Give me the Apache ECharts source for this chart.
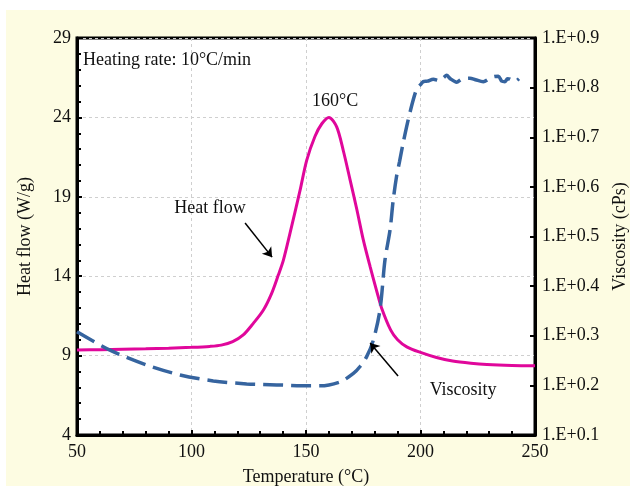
<!DOCTYPE html>
<html>
<head>
<meta charset="utf-8">
<script src="https://cdn.jsdelivr.net/npm/echarts@6/dist/echarts.min.js"></script>
<style>
  html, body { margin: 0; padding: 0; background: #fff; }
  #dsc { width: 635px; height: 490px; }
</style>
</head>
<body>
<div id="dsc"></div>
<script>
// 热流曲线 (W/g)
var heatT = [50, 60, 70, 80, 90, 100, 108, 113, 118, 122.6, 127, 131.4, 135, 137.9, 140.1, 143, 147.4, 150.3, 153.9, 156.9, 160, 163.4, 166.3, 169.2, 172.2, 175, 178, 181, 183, 187, 190, 194, 200, 207, 214, 222, 229, 240, 250];
var heatY = [9.35, 9.37, 9.4, 9.43, 9.47, 9.52, 9.58, 9.66, 9.88, 10.3, 11.03, 11.87, 12.92, 14.07, 15.0, 16.7, 19.4, 21.3, 22.8, 23.6, 24.0, 23.4, 21.9, 20.1, 18.2, 16.3, 14.6, 13.0, 12.0, 10.6, 10.0, 9.55, 9.2, 8.88, 8.66, 8.52, 8.44, 8.38, 8.36];
// 粘度曲线 (右轴, 1.E+x 中的 x)
var visT = [50, 64.4, 80.4, 95, 109.5, 124.1, 137.2, 151.8, 156.1, 164.9, 170.7, 173.6, 176.5, 179.4, 182.3, 184.5, 186.7, 188, 189.5, 190.8, 192.5, 195.4, 198.3, 200, 201.2, 203, 205.6, 208, 210, 211.4, 213, 215.8, 218, 221.6, 224, 227.4, 230, 232, 234, 235.5, 236.9, 238, 239.1, 241, 243];
var visV = [0.308, 0.271, 0.241, 0.221, 0.209, 0.203, 0.201, 0.199, 0.199, 0.207, 0.224, 0.238, 0.258, 0.291, 0.352, 0.453, 0.513, 0.57, 0.62, 0.65, 0.69, 0.75, 0.797, 0.806, 0.812, 0.813, 0.817, 0.814, 0.82, 0.825, 0.818, 0.811, 0.817, 0.819, 0.816, 0.812, 0.818, 0.822, 0.823, 0.813, 0.812, 0.818, 0.817, 0.812, 0.818];
// 坐标轴
var xMin = 50, xMax = 250, xStep = 50;
var hMin = 4, hMax = 29, hStep = 5;
var vMin = 0.1, vMax = 0.9, vStep = 0.1;

function pairs(xs, ys) {
	var out = [];
	for (var i = 0; i < xs.length; i++) out.push([xs[i], ys[i]]);
	return out;
}

var font = 'Liberation Serif';
var txt = { fontFamily: font, fontSize: 18, color: '#111' };

var myChart = echarts.init(document.getElementById('dsc'));
var option = {
	animation: false,
	backgroundColor: '#fff',
	graphic: [{
		type: 'rect', z: -10,
		shape: { x: 6, y: 10, width: 624, height: 476 },
		style: { fill: '#fdfce2' }
	}],
	grid: {
		left: 77, right: 100, top: 38, bottom: 55,
		outerBoundsMode: 'none',
		show: true, backgroundColor: '#fff',
		borderColor: '#000', borderWidth: 3
	},
	xAxis: [{
		type: 'value', min: xMin, max: xMax, interval: xStep,
		name: 'Temperature (°C)', nameLocation: 'middle', nameGap: 33,
		nameTextStyle: txt,
		axisLine: { lineStyle: { color: '#000', width: 3 } },
		axisTick: { inside: true, length: 5, lineStyle: { color: '#000', width: 2 } },
		minorTick: { show: true, splitNumber: 5, length: 4, lineStyle: { color: '#000', width: 2 } },
		axisLabel: { fontFamily: font, fontSize: 18, color: '#111', margin: 8 },
		splitLine: { show: true, lineStyle: { color: '#cfcfcf', type: [3, 3], width: 1 } }
	}],
	yAxis: [{
		type: 'value', min: hMin, max: hMax, interval: hStep,
		name: 'Heat flow (W/g)', nameLocation: 'middle', nameGap: 43, nameRotate: 90,
		nameTextStyle: txt,
		axisLine: { show: true, lineStyle: { color: '#000', width: 3 } },
		axisTick: { show: true, inside: true, length: 5, lineStyle: { color: '#000', width: 2 } },
		minorTick: { show: true, splitNumber: 5, length: 4, lineStyle: { color: '#000', width: 2 } },
		axisLabel: { fontFamily: font, fontSize: 18, color: '#111', margin: 6 },
		splitLine: { show: true, lineStyle: { color: '#cfcfcf', type: [3, 3], width: 1 } }
	}, {
		type: 'value', min: vMin, max: vMax, interval: vStep, position: 'right',
		name: 'Viscosity (cPs)', nameLocation: 'middle', nameGap: 76, nameRotate: 90,
		nameTextStyle: txt,
		axisLine: { show: true, lineStyle: { color: '#000', width: 3 } },
		axisTick: { show: true, inside: true, length: 5, lineStyle: { color: '#000', width: 2 } },
		axisLabel: {
			fontFamily: font, fontSize: 18, color: '#111', margin: 7,
			formatter: function (v) { return '1.E+' + v.toFixed(1); }
		},
		splitLine: { show: false }
	}],
	series: [{
		name: 'Heat flow',
		type: 'line',
		yAxisIndex: 0,
		showSymbol: false,
		smooth: 0.3,
		lineStyle: { color: '#e0079b', width: 3 },
		data: pairs(heatT, heatY),
		markLine: {
			silent: true,
			symbol: ['none', 'arrow'],
			symbolSize: 9,
			label: { show: false },
			lineStyle: { color: '#000', width: 1.5, type: 'solid' },
			data: [
				[{ coord: [123.4, 17.35] }, { coord: [135.2, 15.2] }],
				[{ coord: [190.2, 7.72] }, { coord: [178, 9.8] }]
			]
		},
		markPoint: {
			silent: true,
			symbolSize: 0,
			data: [
				{ coord: [52.6, 27.6], label: { show: true, formatter: 'Heating rate: 10°C/min', position: 'right', distance: 0, fontFamily: font, fontSize: 18, color: '#111' } },
				{ coord: [162.7, 25.0], label: { show: true, formatter: '160°C', position: 'inside', fontFamily: font, fontSize: 18, color: '#111' } },
				{ coord: [108.1, 18.3], label: { show: true, formatter: 'Heat flow', position: 'inside', fontFamily: font, fontSize: 18, color: '#111' } },
				{ coord: [218.6, 6.83], label: { show: true, formatter: 'Viscosity', position: 'inside', fontFamily: font, fontSize: 18, color: '#111' } }
			]
		}
	}, {
		name: 'Viscosity',
		type: 'line',
		yAxisIndex: 1,
		showSymbol: false,
		smooth: 0.3,
		lineStyle: { color: '#36649f', width: 3.5, type: [20, 8] },
		data: pairs(visT, visV)
	}]
};
myChart.setOption(option);
</script>
</body>
</html>
